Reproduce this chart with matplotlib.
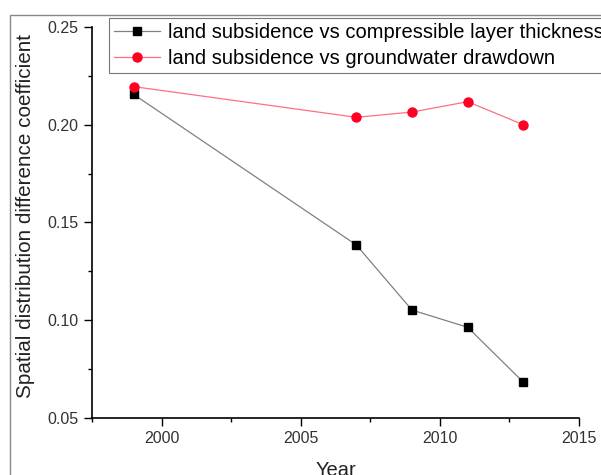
import matplotlib
matplotlib.use("Agg")
import matplotlib.pyplot as plt
from matplotlib.ticker import MultipleLocator
from matplotlib.patches import Rectangle

years = [1999, 2007, 2009, 2011, 2013]
thickness = [0.2155, 0.1385, 0.1052, 0.0964, 0.0683]
drawdown = [0.2195, 0.2038, 0.2065, 0.2118, 0.2000]
labels = ["land subsidence vs compressible layer thickness",
          "land subsidence vs groundwater drawdown"]

plt.rcParams['font.family'] = ['Liberation Sans', 'DejaVu Sans']

W, H = 601, 475
fig = plt.figure(figsize=(W / 100, H / 100), dpi=100)
ax = fig.add_axes([92 / W, 1 - 418 / H, (579 - 92) / W, (418 - 27) / H])

# outer grey frame
fig.patches.append(Rectangle((10 / W, -0.1), 1.2, 1 - 15 / H + 0.1,
                             transform=fig.transFigure, fill=False,
                             edgecolor='#888888', linewidth=1.0))

ax.plot(years, thickness, color='#808080', linewidth=0.9, marker='s',
        markersize=5.5, markerfacecolor='black', markeredgecolor='black',
        label=labels[0], zorder=3)
ax.plot(years, drawdown, color='#ff6e86', linewidth=0.9, marker='o',
        markersize=6.5, markerfacecolor='#ff0022', markeredgecolor='#ff0022',
        label=labels[1], zorder=4)

ax.set_xlim(1997.5, 2015)
ax.set_ylim(0.05, 0.25)
ax.xaxis.set_major_locator(MultipleLocator(5))
ax.xaxis.set_minor_locator(MultipleLocator(2.5))
ax.yaxis.set_major_locator(MultipleLocator(0.05))
ax.yaxis.set_minor_locator(MultipleLocator(0.025))
ax.yaxis.set_major_formatter(plt.FuncFormatter(lambda v, p: f"{v:.2f}"))
ax.tick_params(which='major', direction='out', length=6, width=1,
               labelsize=11.5, labelcolor='#333333')
ax.tick_params(which='minor', direction='out', length=3, width=1)
ax.spines['top'].set_visible(False)
ax.spines['right'].set_visible(False)
for s in ('left', 'bottom'):
    ax.spines[s].set_linewidth(1.2)

ax.set_xlabel("Year", fontsize=14.5, color='#222222', labelpad=11)
ax.set_ylabel("Spatial distribution difference coefficient", fontsize=14.9,
              color='#222222')
ax.yaxis.set_label_coords(-(92 - 35) / (579 - 92), (418 - 216) / (418 - 27))

leg = ax.legend(loc='upper left', bbox_to_anchor=((109 - 92) / (579 - 92), 1.023),
                fontsize=14.5, frameon=True, fancybox=False, edgecolor='#555555',
                borderpad=0.25, labelspacing=0.33, handlelength=2.3,
                handletextpad=0.4, borderaxespad=0)
leg.get_frame().set_linewidth(0.8)
leg.set_clip_on(False)

fig.savefig("out.png", dpi=100)
